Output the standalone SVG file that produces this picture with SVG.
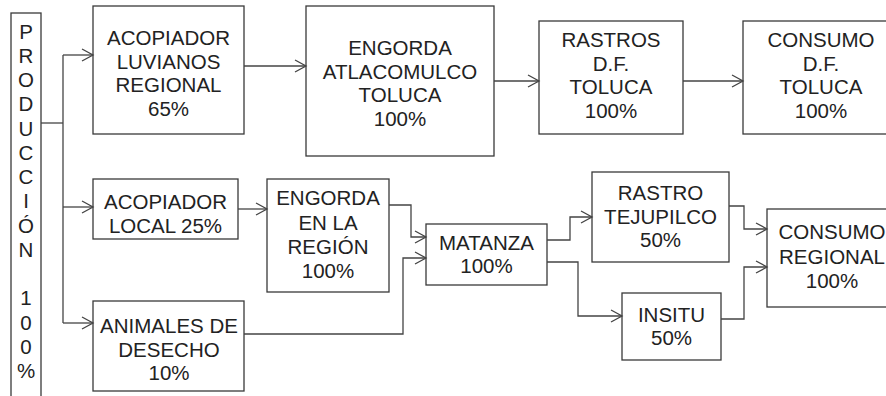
<svg xmlns="http://www.w3.org/2000/svg" width="886" height="396" viewBox="0 0 886 396">
<style>
.box{fill:#fff;stroke:#3a3a3a;stroke-width:1.3}
.t{font-family:"Liberation Sans",Arial,sans-serif;font-size:20.5px;fill:#222;text-anchor:middle}
.c{fill:none;stroke:#444;stroke-width:1.3}
</style>
<defs>
<marker id="ah" markerUnits="userSpaceOnUse" viewBox="-12 -7 13 14" refX="0" refY="0" markerWidth="13" markerHeight="14" orient="auto" overflow="visible">
<path d="M-11,-6 L0,0 L-11,6" fill="none" stroke="#444" stroke-width="1.3"/>
</marker>
</defs>
<rect width="886" height="396" fill="#fff"/>
<g id="produccion">
<rect class="box" x="11" y="13" width="30" height="400"/>
<text class="t" x="26" y="38.5">P</text>
<text class="t" x="26" y="62.75">R</text>
<text class="t" x="26" y="87">O</text>
<text class="t" x="26" y="111.25">D</text>
<text class="t" x="26" y="135.5">U</text>
<text class="t" x="26" y="159.75">C</text>
<text class="t" x="26" y="184">C</text>
<text class="t" x="26" y="208.25">I</text>
<text class="t" x="26" y="232.5">Ó</text>
<text class="t" x="26" y="256.75">N</text>
<text class="t" x="26" y="305.25">1</text>
<text class="t" x="26" y="329.5">0</text>
<text class="t" x="26" y="353.75">0</text>
<text class="t" x="26" y="378">%</text>
</g>
<g id="acopiador-luvianos">
<rect class="box" x="93" y="6" width="151" height="128"/>
<text class="t" x="168.5" y="45">ACOPIADOR</text>
<text class="t" x="168.5" y="68.5">LUVIANOS</text>
<text class="t" x="168.5" y="92">REGIONAL</text>
<text class="t" x="168.5" y="115.5">65%</text>
</g>
<g id="engorda-atlacomulco">
<rect class="box" x="306" y="6" width="188" height="150"/>
<text class="t" x="400" y="55">ENGORDA</text>
<text class="t" x="400" y="78.5">ATLACOMULCO</text>
<text class="t" x="400" y="102">TOLUCA</text>
<text class="t" x="400" y="125.5">100%</text>
</g>
<g id="rastros-df">
<rect class="box" x="539" y="21" width="144" height="113"/>
<text class="t" x="611" y="47">RASTROS</text>
<text class="t" x="611" y="70.7">D.F.</text>
<text class="t" x="611" y="94.4">TOLUCA</text>
<text class="t" x="611" y="118">100%</text>
</g>
<g id="consumo-df">
<rect class="box" x="743" y="21" width="156" height="113"/>
<text class="t" x="821" y="47">CONSUMO</text>
<text class="t" x="821" y="70.7">D.F.</text>
<text class="t" x="821" y="94.4">TOLUCA</text>
<text class="t" x="821" y="118">100%</text>
</g>
<g id="acopiador-local">
<rect class="box" x="93" y="179" width="145" height="60"/>
<text class="t" x="165.5" y="209">ACOPIADOR</text>
<text class="t" x="165.5" y="233">LOCAL 25%</text>
</g>
<g id="animales-desecho">
<rect class="box" x="93" y="301" width="151" height="90"/>
<text class="t" x="169" y="333">ANIMALES DE</text>
<text class="t" x="169" y="356.5">DESECHO</text>
<text class="t" x="169" y="380">10%</text>
</g>
<g id="engorda-region">
<rect class="box" x="267" y="179" width="122" height="113"/>
<text class="t" x="328" y="205">ENGORDA</text>
<text class="t" x="328" y="229.5">EN LA</text>
<text class="t" x="328" y="254">REGIÓN</text>
<text class="t" x="328" y="277.5">100%</text>
</g>
<g id="matanza">
<rect class="box" x="426" y="224" width="121" height="61"/>
<text class="t" x="486.5" y="250">MATANZA</text>
<text class="t" x="486.5" y="273">100%</text>
</g>
<g id="rastro-tejupilco">
<rect class="box" x="592" y="172" width="137" height="90"/>
<text class="t" x="660.5" y="200">RASTRO</text>
<text class="t" x="660.5" y="223.5">TEJUPILCO</text>
<text class="t" x="660.5" y="247">50%</text>
</g>
<g id="insitu">
<rect class="box" x="622" y="293" width="99" height="67"/>
<text class="t" x="671.5" y="322">INSITU</text>
<text class="t" x="671.5" y="345">50%</text>
</g>
<g id="consumo-regional">
<rect class="box" x="767" y="209" width="130" height="98"/>
<text class="t" x="832" y="239">CONSUMO</text>
<text class="t" x="832" y="263.5">REGIONAL</text>
<text class="t" x="832" y="288">100%</text>
</g>
<g id="connectors">
<path class="c" d="M41,123 H63"/>
<path class="c" d="M63,55 V323"/>
<path class="c" d="M63,55 H93" marker-end="url(#ah)"/>
<path class="c" d="M63,207 H93" marker-end="url(#ah)"/>
<path class="c" d="M63,323 H93" marker-end="url(#ah)"/>
<path class="c" d="M244,66 H306" marker-end="url(#ah)"/>
<path class="c" d="M494,81 H539" marker-end="url(#ah)"/>
<path class="c" d="M683,81 H743" marker-end="url(#ah)"/>
<path class="c" d="M238,209 H267" marker-end="url(#ah)"/>
<path class="c" d="M389,205 H411 V237 H426" marker-end="url(#ah)"/>
<path class="c" d="M244,334 H403 V258 H426" marker-end="url(#ah)"/>
<path class="c" d="M547,240 H570 V217 H592" marker-end="url(#ah)"/>
<path class="c" d="M547,262 H578 V316 H622" marker-end="url(#ah)"/>
<path class="c" d="M729,206 H744 V229 H767" marker-end="url(#ah)"/>
<path class="c" d="M721,319 H744 V267 H767" marker-end="url(#ah)"/>
</g>
</svg>
